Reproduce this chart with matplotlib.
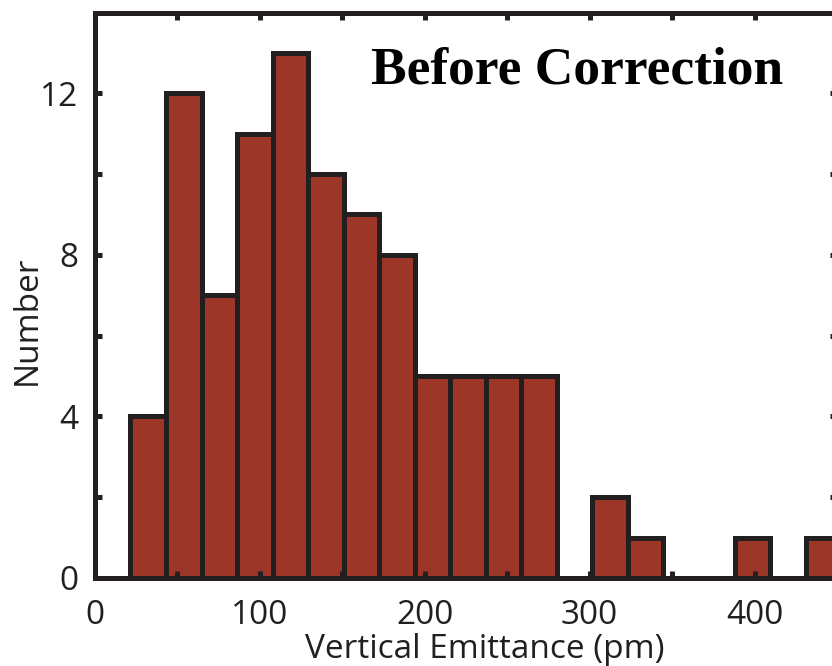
import numpy as np
import matplotlib.pyplot as plt
from matplotlib.ticker import MultipleLocator

# histogram counts (bins of ~21.6 pm starting at 21.5 pm)
bin_start = 21.5
bin_width = 21.55
counts = [4, 12, 7, 11, 13, 10, 9, 8, 5, 5, 5, 5, 0, 2, 1, 0, 0, 1, 0, 1]
bin_left = bin_start + bin_width * np.arange(len(counts))

x_ticks = [0, 100, 200, 300, 400]
y_ticks = [0, 4, 8, 12]

bar_color = "#9c3628"
edge_color = "#231f20"

fig = plt.figure(figsize=(8.32, 6.66), dpi=100)
ax = fig.add_axes([95 / 832, 88 / 666, 742 / 832, 565.5 / 666])

ax.bar(bin_left, counts, width=bin_width, align="edge",
       color=bar_color, edgecolor=edge_color, linewidth=3.6)

ax.set_xlim(0, 450)
ax.set_ylim(0, 14)
ax.set_xticks(x_ticks)
ax.set_yticks(y_ticks)
ax.xaxis.set_minor_locator(MultipleLocator(50))
ax.yaxis.set_minor_locator(MultipleLocator(2))

for s in ax.spines.values():
    s.set_linewidth(3.6)
    s.set_color(edge_color)

ax.tick_params(which="both", direction="in", top=True, right=True,
               length=5, width=3.6, color=edge_color)
ax.tick_params(axis="both", which="major", labelsize=24, labelcolor=edge_color)
ax.tick_params(axis="y", which="major", pad=12)
ax.tick_params(axis="x", which="major", pad=15)
for lab in ax.get_xticklabels() + ax.get_yticklabels():
    lab.set_family("Open Sans")

ax.set_xlabel("Vertical Emittance (pm)", fontsize=24, family="Open Sans",
              color=edge_color)
ax.set_ylabel("Number", fontsize=24, family="Open Sans", color=edge_color)
ax.xaxis.set_label_coords((485 - 95) / 742, -(650 - 578) / 565.5)
ax.yaxis.set_label_coords((27 - 95) / 742, (578 - 320) / 565.5)
ax.xaxis.label.set_va("center")
ax.yaxis.label.set_va("center")

ax.text((577 - 95) / 742, (578 - 83) / 565.5, "Before Correction",
        transform=ax.transAxes, ha="center", va="baseline",
        family="Liberation Serif", weight="bold", fontsize=38.5, color="black")

fig.savefig("out.png", dpi=100)
